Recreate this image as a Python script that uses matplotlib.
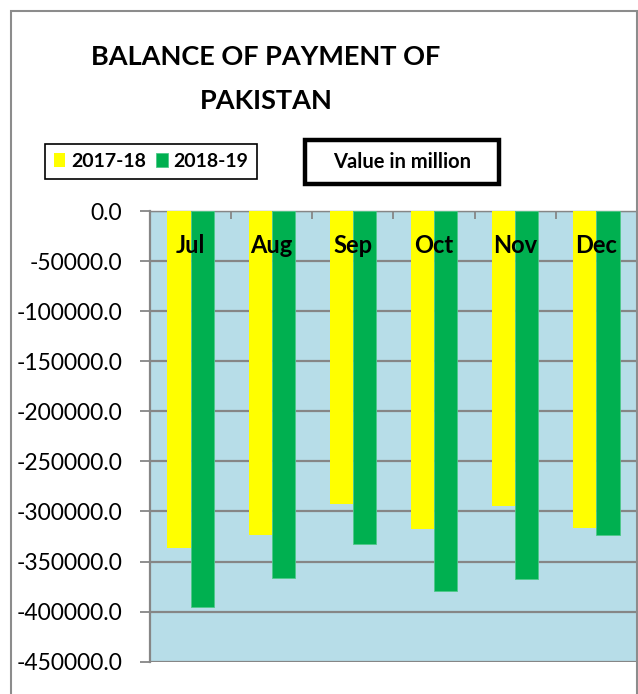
import matplotlib
matplotlib.use("Agg")
import matplotlib.pyplot as plt
from matplotlib.patches import Rectangle
import numpy as np

plt.rcParams['font.family'] = ['Lato', 'DejaVu Sans']

months = ["Jul", "Aug", "Sep", "Oct", "Nov", "Dec"]
series_names = ["2017-18", "2018-19"]
values_2017_18 = [-336300, -323300, -292700, -317700, -294700, -316700]
values_2018_19 = [-395300, -366000, -332300, -379700, -367300, -323700]
yticks = np.arange(-450000, 1, 50000)

W, H = 638, 694
fig = plt.figure(figsize=(W / 100, H / 100), dpi=100)

def fx(px):
    return px / W

def fy(py):
    return 1 - py / H

grid_c = "#868686"
ax = fig.add_axes([fx(150), fy(661.7), fx(637) - fx(150), fy(211) - fy(661.7)])
ax.set_facecolor("#B7DDE8")

x = np.arange(len(months))
bw = 0.285
b1 = ax.bar(x - bw / 2, values_2017_18, bw, color="#FFFF00", label=series_names[0], zorder=3)
b2 = ax.bar(x + bw / 2, values_2018_19, bw, color="#00B050", label=series_names[1],
            edgecolor="#4FC98A", linewidth=0.6, zorder=3)

ax.set_xlim(-0.5, len(months) - 0.5)
ax.set_ylim(-450000, 0)
ax.set_yticks(yticks)
ax.set_yticklabels([f"{v:.1f}" for v in yticks], fontsize=16.5)
ax.yaxis.grid(True, color=grid_c, linewidth=1.6, zorder=1)
ax.tick_params(axis='y', direction='out', length=7, width=1.3, color=grid_c, pad=13)

ax.xaxis.tick_top()
ax.set_xticks(np.arange(0.5, len(months) - 0.5, 1.0))
ax.set_xticklabels([])
ax.tick_params(axis='x', direction='in', length=6, width=1.3, color=grid_c)

for i, m in enumerate(months):
    ax.text(x[i], -34000, m, ha='center', va='center', fontsize=17, fontweight='bold', zorder=4)

for s in ['right', 'bottom']:
    ax.spines[s].set_visible(False)
ax.spines['left'].set_color(grid_c)
ax.spines['left'].set_linewidth(1.6)
ax.spines['top'].set_color(grid_c)
ax.spines['top'].set_linewidth(1.0)

# outer chart border
fig.patches.append(Rectangle((fx(10.5), fy(720)), fx(637) - fx(10.5), fy(11) - fy(720),
                             transform=fig.transFigure, fill=False, edgecolor="#8C8C8C",
                             linewidth=1.5, clip_on=False))

# title
fig.text(fx(266), fy(57), "BALANCE OF PAYMENT OF", ha='center', va='center',
         fontsize=19.5, fontweight='bold')
fig.text(fx(266), fy(101), "PAKISTAN", ha='center', va='center',
         fontsize=19.5, fontweight='bold')

# legend
leg = fig.legend(handles=[b1, b2], labels=series_names, loc='center',
                 bbox_to_anchor=(fx(151), fy(161.5)), ncol=2, frameon=True,
                 fancybox=False, edgecolor='black', framealpha=1,
                 prop={'weight': 'bold', 'size': 14}, handlelength=0.6, handleheight=0.75,
                 handletextpad=0.3, columnspacing=0.5, borderpad=0.45, borderaxespad=0)
leg.get_frame().set_linewidth(1.2)

# value box
fig.patches.append(Rectangle((fx(305), fy(184)), fx(499) - fx(305), fy(140) - fy(184),
                             transform=fig.transFigure, fill=True, facecolor='white',
                             edgecolor='black', linewidth=3.2))
fig.text(fx(402), fy(162), "Value in million", ha='center', va='center',
         fontsize=14.5, fontweight='bold')

fig.savefig("out.png", dpi=100)
